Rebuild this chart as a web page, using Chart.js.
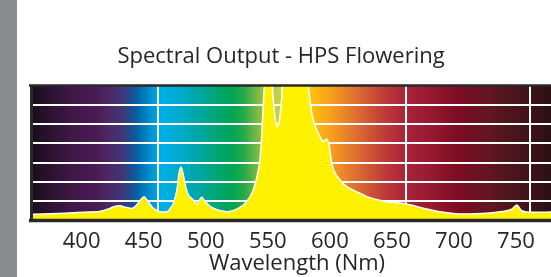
<!DOCTYPE html>
<html><head><meta charset="utf-8">
<script src="https://cdn.jsdelivr.net/npm/chart.js@4/dist/chart.umd.min.js"></script>
<style>
html,body{margin:0;padding:0;background:#fff;overflow:hidden;width:551px;height:277px;}
#bar{position:absolute;left:0;top:0;width:17px;height:277px;background:#8b8c8f;z-index:2}
#wrap{position:absolute;left:0;top:0;width:562px;height:277px;}
</style></head><body>
<div id="wrap"><canvas id="c" width="562" height="277"></canvas></div>
<div id="bar"></div>
<script>
const wavelengths = [349,375,395,404,411,416,419.6,422.3,426,429,433,436,439,442,446.5,450,453.2,457.3,460,463,465.5,467.2,468.8,470.6,472.5,474.7,478.7,481.4,483.5,485.5,487.5,489.5,494.8,500,505.6,513.7,521.7,527,530,532.4,533.8,535,536.5,539,541,542.5,544.5,546.5,548.5,550.5,552,556,563,568,571.4,574.1,578.1,582.2,583.4,586.2,588.3,590.2,597,602.3,613,618.4,634.5,650.6,664,677.5,696,715,731.2,735.3,739.3,743.3,750,776];
const intensity = [0.33,0.38,0.44,0.48,0.62,0.75,0.77,0.72,0.66,0.63,0.80,1.05,1.24,1.0,0.64,0.50,0.45,0.45,0.62,0.95,1.6,2.45,2.77,2.37,1.76,1.33,1.07,0.86,1.05,1.21,1.05,0.90,0.64,0.52,0.46,0.59,0.98,1.59,2.28,3.14,4.35,5.91,7.6,9.5,9.0,6.9,5.4,4.87,5.4,6.9,8.6,10,10,9,6.92,5.57,4.70,4.18,4.09,4.22,3.84,2.97,2.10,1.76,1.42,1.24,0.98,0.86,0.64,0.46,0.34,0.38,0.51,0.59,0.81,0.51,0.43,0.46];
const tickValues = [400,450,500,550,600,650,700,750];
const gridWavelengths = [450,550,650,750];
const gridLevels = [1,2,3,4,5,6];

const FONT = '"Open Sans", "Noto Sans", sans-serif';
const TEXT = '#262626';

const spectrumStops = [
  [348.7,'#1c0d1f'],[363,'#2b1230'],[383,'#41184a'],[399.5,'#4a1a52'],[411.6,'#4b2a68'],
  [421,'#423578'],[427.7,'#244a8a'],[434,'#0065a8'],[444,'#0090d0'],[453.5,'#00b0e8'],
  [472,'#00a9c2'],[484,'#00a6a2'],[496,'#00a678'],[510,'#00a552'],[520,'#2aa94a'],
  [531,'#80bc45'],[544.5,'#bcd048'],[560,'#f0d030'],[572.7,'#fec210'],[588.8,'#f9a21c'],
  [605,'#e47a2c'],[621,'#cd5535'],[637,'#b9343a'],[650,'#a92337'],[669,'#981a30'],
  [693.6,'#7a0c22'],[717.8,'#611522'],[742,'#451419'],[767,'#291014'],[776,'#221012']
];

const bgPlugin = {
  id:'spectrumBg',
  beforeDraw(chart){
    const {ctx, chartArea:{left,right,top,bottom}} = chart;
    const xs = chart.scales.x;
    const g = ctx.createLinearGradient(left,0,right,0);
    spectrumStops.forEach(([w,c])=>{
      const p = (xs.getPixelForValue(w)-left)/(right-left);
      g.addColorStop(Math.min(1,Math.max(0,p)), c);
    });
    ctx.save();
    ctx.fillStyle = g;
    ctx.fillRect(left, top, right-left, bottom-top);
    ctx.restore();
  }
};
const framePlugin = {
  id:'frame',
  afterDatasetsDraw(chart){
    const {ctx, chartArea:{left,right,top,bottom}} = chart;
    ctx.save();
    ctx.strokeStyle = '#2a2829';
    ctx.lineWidth = 2.5;
    ctx.beginPath(); ctx.moveTo(left-3, top); ctx.lineTo(right, top); ctx.stroke();
    ctx.lineWidth = 3;
    ctx.beginPath(); ctx.moveTo(left-0.5, top); ctx.lineTo(left-0.5, bottom); ctx.stroke();
    ctx.lineWidth = 3.5;
    ctx.beginPath(); ctx.moveTo(left-3, bottom); ctx.lineTo(right, bottom); ctx.stroke();
    ctx.restore();
  }
};

new Chart(document.getElementById('c'), {
  type:'line',
  data:{datasets:[{
    data: wavelengths.map((w,i)=>({x:w, y:intensity[i]})),
    borderColor:'#ffffff', borderWidth:1.5,
    backgroundColor:'#fff200', fill:'origin',
    pointRadius:0, cubicInterpolationMode:'monotone'
  }]},
  options:{
    responsive:false, animation:false,
    layout:{padding:0},
    plugins:{
      legend:{display:false}, tooltip:{enabled:false},
      title:{display:true, text:'Spectral Output - HPS Flowering', color:TEXT,
        font:{family:FONT, size:22, weight:500}, padding:{top:44, bottom:15}}
    },
    scales:{
      x:{type:'linear', min:348.7, max:775.8,
        afterBuildTicks:s=>{ s.ticks = tickValues.map(v=>({value:v})); },
        afterFit:s=>{ s.height = 56.4; },
        grid:{color:c=> (c.tick && gridWavelengths.includes(c.tick.value)) ? '#ffffff' : 'rgba(0,0,0,0)', lineWidth:2, drawTicks:false},
        border:{display:false},
        ticks:{color:TEXT, font:{family:FONT, size:22, weight:500}, padding:8, labelOffset:-14, maxRotation:0, autoSkip:false},
        title:{display:true, text:'Wavelength (Nm)', color:TEXT, font:{family:FONT, size:22, weight:500}, padding:{top:0,bottom:0}}
      },
      y:{min:0, max:7,
        afterBuildTicks:s=>{ s.ticks = [0].concat(gridLevels,[7]).map(v=>({value:v})); },
        afterFit:s=>{ s.width = 32; },
        grid:{color:c=> (c.tick && gridLevels.includes(c.tick.value)) ? '#ffffff' : 'rgba(0,0,0,0)', lineWidth:2, drawTicks:false},
        border:{display:false},
        ticks:{display:false}
      }
    }
  },
  plugins:[bgPlugin, framePlugin]
});
</script>
</body></html>
